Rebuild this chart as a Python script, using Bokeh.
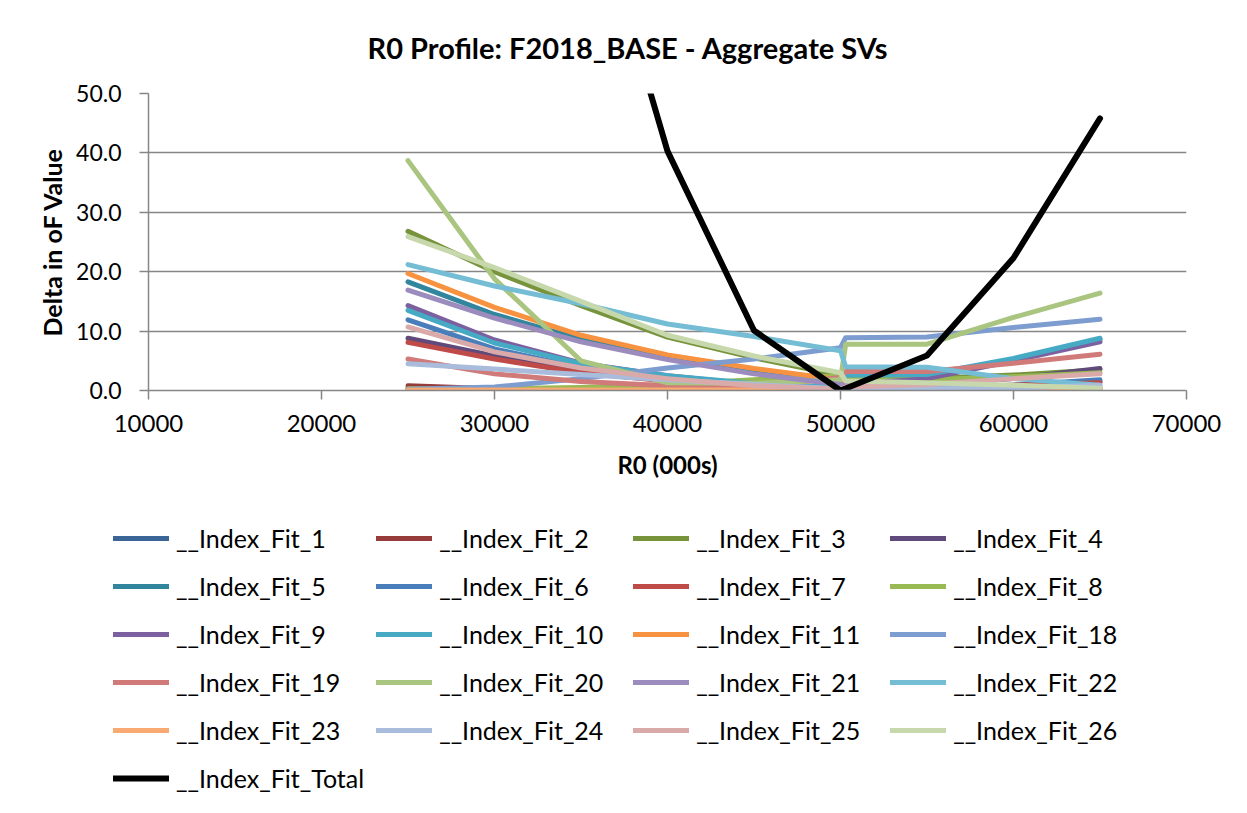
from bokeh.plotting import figure
from bokeh.models import Range1d, Legend, LegendItem, FixedTicker, NumeralTickFormatter
from bokeh.embed import file_html
from bokeh.resources import INLINE

# ---- data -------------------------------------------------------------
r0_values = [25000, 30000, 35000, 40000, 45000, 50000, 50300, 55000, 60000, 65000]

fit_1 = [0.4, 0.2, 0.1, 0.1, 0.1, 0.0, 0.3, 0.5, 0.9, 1.5]
fit_2 = [0.8, 0.3, 0.1, 0.1, 0.1, 0.1, 0.1, 0.1, 0.1, 0.2]
fit_3 = [26.8, 20.0, 14.3, 9.0, 5.5, 2.5, 2.3, 2.0, 2.6, 3.5]
fit_4 = [8.8, 5.8, 3.6, 2.0, 1.0, 0.3, 0.6, 1.0, 2.0, 3.7]
fit_5 = [18.3, 12.8, 8.6, 5.4, 3.0, 1.0, 2.4, 2.5, 5.2, 8.6]
fit_6 = [11.9, 7.0, 3.8, 2.0, 0.9, 0.2, 0.3, 0.4, 0.9, 1.8]
fit_7 = [8.1, 5.3, 3.0, 1.6, 0.7, 0.2, 0.3, 0.5, 0.9, 1.3]
fit_8 = [0.3, 0.3, 0.5, 1.0, 1.8, 2.5, 1.8, 1.8, 2.3, 3.0]
fit_9 = [14.3, 8.5, 4.6, 2.5, 1.0, 0.3, 1.0, 2.0, 5.0, 8.2]
fit_10 = [13.5, 8.0, 4.5, 2.5, 1.2, 0.5, 2.6, 2.7, 5.4, 8.8]
fit_11 = [19.7, 14.0, 9.3, 6.0, 3.7, 1.8, 1.5, 1.0, 0.7, 0.5]
fit_18 = [0.2, 0.6, 2.0, 3.8, 5.3, 7.2, 8.9, 9.0, 10.6, 12.0]
fit_19 = [5.3, 2.8, 1.5, 0.8, 0.5, 2.2, 3.2, 3.2, 4.6, 6.1]
fit_20 = [38.7, 18.8, 5.0, 1.3, 1.2, 1.8, 7.8, 7.8, 12.3, 16.4]
fit_21 = [16.9, 12.2, 8.2, 5.2, 2.8, 1.0, 0.9, 0.8, 0.6, 0.5]
fit_22 = [21.2, 17.6, 14.6, 11.2, 9.1, 6.7, 4.0, 3.9, 2.0, 0.9]
fit_23 = [0.1, 0.1, 0.1, 0.1, 0.1, 0.1, 0.1, 0.1, 0.2, 0.3]
fit_24 = [4.5, 3.6, 2.7, 1.8, 1.0, 0.3, 0.3, 0.3, 0.4, 0.9]
fit_25 = [10.7, 6.5, 3.8, 2.0, 0.8, 0.2, 0.6, 1.0, 2.0, 2.8]
fit_26 = [25.9, 20.7, 15.0, 9.3, 5.8, 3.0, 1.6, 1.3, 0.9, 0.4]
fit_total = [260.0, 160.0, 90.0, 40.3, 10.1, 0.0, 0.35, 5.9, 22.3, 45.8]

series_labels = ["__Index_Fit_1", "__Index_Fit_2", "__Index_Fit_3", "__Index_Fit_4",
                 "__Index_Fit_5", "__Index_Fit_6", "__Index_Fit_7", "__Index_Fit_8",
                 "__Index_Fit_9", "__Index_Fit_10", "__Index_Fit_11", "__Index_Fit_18",
                 "__Index_Fit_19", "__Index_Fit_20", "__Index_Fit_21", "__Index_Fit_22",
                 "__Index_Fit_23", "__Index_Fit_24", "__Index_Fit_25", "__Index_Fit_26",
                 "__Index_Fit_Total"]
series_values = [fit_1, fit_2, fit_3, fit_4, fit_5, fit_6, fit_7, fit_8, fit_9, fit_10,
                 fit_11, fit_18, fit_19, fit_20, fit_21, fit_22, fit_23, fit_24, fit_25,
                 fit_26, fit_total]
series_colors = ["#3B6597", "#963C3A", "#77933C", "#604A7B", "#31859C", "#4A7EBB",
                 "#BE4B48", "#98B954", "#7D60A0", "#46AAC5", "#F69240", "#7D9CCF",
                 "#D07B79", "#A9C57F", "#9C8CBE", "#74BDD4", "#F9AA73", "#A9BCDC",
                 "#D9AAA9", "#C6D8AC", "#000000"]

x_ticks = [10000, 20000, 30000, 40000, 50000, 60000, 70000]
y_ticks = [0, 10, 20, 30, 40, 50]

# ---- main chart -------------------------------------------------------
FONT = "Lato"
GRAY = "#868686"
W = 1231

p = figure(width=W, height=498, output_backend="svg", toolbar_location=None,
           x_range=Range1d(10000, 70000), y_range=Range1d(0, 50),
           min_border_left=148, min_border_right=45, min_border_top=92,
           min_border_bottom=108, title="R0 Profile: F2018_BASE - Aggregate SVs")

p.title.text_font = FONT
p.title.text_font_style = "bold"
p.title.text_font_size = "29px"
p.title.text_color = "#000000"
p.title.align = "left"
p.title.offset = 219
p.title.vertical_align = "middle"
p.title.standoff = 56

p.outline_line_color = None
p.xgrid.visible = False
p.ygrid.grid_line_color = GRAY
p.ygrid.grid_line_width = 1.5

p.xaxis.ticker = FixedTicker(ticks=x_ticks)
p.yaxis.ticker = FixedTicker(ticks=y_ticks)
p.xaxis.formatter = NumeralTickFormatter(format="0")
p.yaxis.formatter = NumeralTickFormatter(format="0.0")

for ax in (p.xaxis[0], p.yaxis[0]):
    ax.axis_line_color = GRAY
    ax.axis_line_width = 1.5
    ax.major_tick_line_color = GRAY
    ax.major_tick_line_width = 1.5
    ax.major_tick_in = 0
    ax.major_tick_out = 9
    ax.minor_tick_line_color = None
    ax.major_label_text_font = FONT
    ax.major_label_text_color = "#000000"
    ax.axis_label_text_font = FONT
    ax.axis_label_text_font_style = "bold"
    ax.axis_label_text_color = "#000000"

p.xaxis.major_label_text_font_size = "24px"
p.yaxis.major_label_text_font_size = "23px"
p.xaxis.axis_label_text_font_size = "24px"
p.yaxis.axis_label_text_font_size = "25px"
p.xaxis.axis_label = "R0 (000s)"
p.yaxis.axis_label = "Delta in oF Value"
p.xaxis.major_label_standoff = 15
p.xaxis.axis_label_standoff = 15
p.yaxis.major_label_standoff = 18
p.yaxis.axis_label_standoff = 6

# ---- legend panel (separate figure below the chart) --------------------
lg = figure(width=W, height=299, output_backend="svg", toolbar_location=None,
            x_range=Range1d(0, 1), y_range=Range1d(0, 1),
            min_border_left=0, min_border_right=0, min_border_top=0,
            min_border_bottom=0)
lg.axis.visible = False
lg.grid.visible = False
lg.outline_line_color = None

items = []
for label, vals, color in zip(series_labels, series_values, series_colors):
    w = 6 if label.endswith("Total") else 5
    p.line(r0_values, vals, line_color=color, line_width=w,
           line_join="round", line_cap="round")
    # same series in the legend panel; its ranges keep the line itself out of view
    r = lg.line(r0_values, vals, line_color=color, line_width=w,
                line_join="round", line_cap="round")
    items.append(LegendItem(label=label, renderers=[r]))

legend = Legend(items=items, location=(113, 1), orientation="horizontal", ncols=4,
                border_line_color=None, background_fill_alpha=0,
                padding=0, margin=0, spacing=12,
                glyph_height=36, glyph_width=56, label_height=36, label_width=182,
                label_standoff=7, label_text_font=FONT, label_text_font_size="25px",
                label_text_color="#000000")
lg.add_layout(legend)

open("out.html", "w").write(file_html([p, lg], INLINE))
